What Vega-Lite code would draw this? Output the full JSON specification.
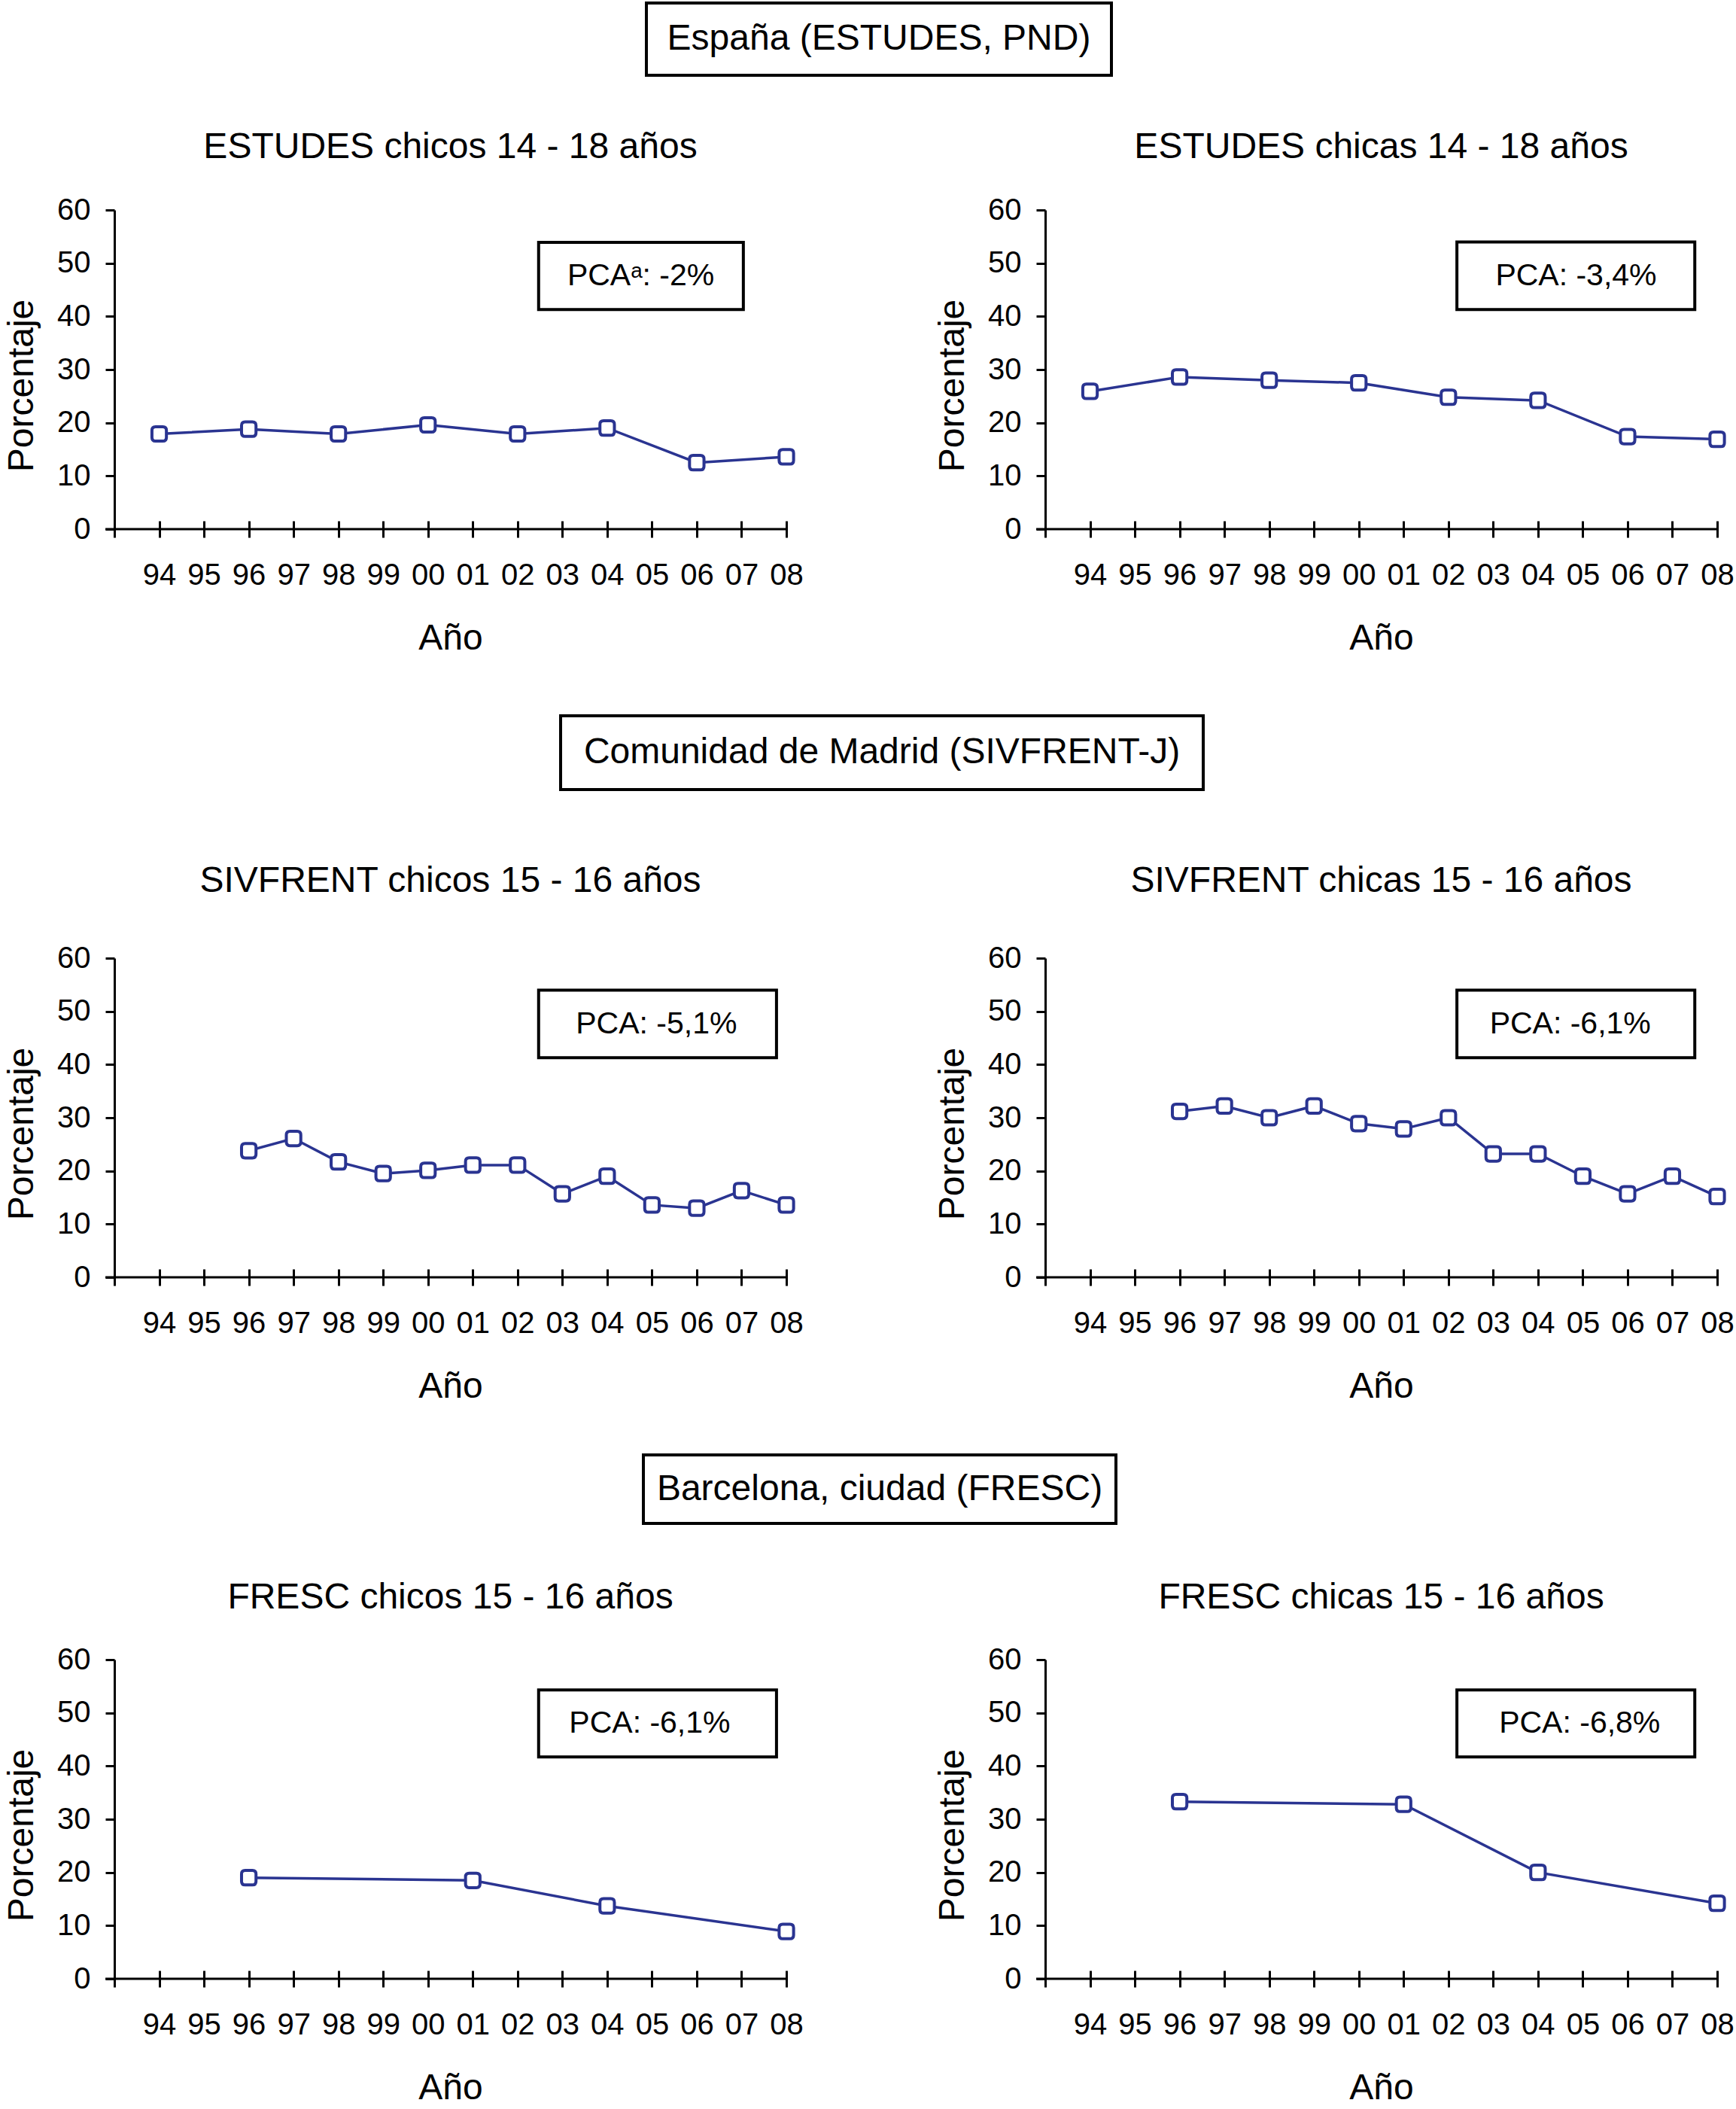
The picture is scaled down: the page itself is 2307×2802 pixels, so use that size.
{
  "$schema": "https://vega.github.io/schema/vega-lite/v6.json",
  "background": "white",
  "padding": {"left": 5, "top": 2, "right": 5, "bottom": 2},
  "datasets": {
    "series": [
      {"panel": "ESTUDES chicos", "year": 1994, "value": 17.9},
      {"panel": "ESTUDES chicos", "year": 1996, "value": 18.8},
      {"panel": "ESTUDES chicos", "year": 1998, "value": 17.9},
      {"panel": "ESTUDES chicos", "year": 2000, "value": 19.6},
      {"panel": "ESTUDES chicos", "year": 2002, "value": 17.9},
      {"panel": "ESTUDES chicos", "year": 2004, "value": 19.0},
      {"panel": "ESTUDES chicos", "year": 2006, "value": 12.5},
      {"panel": "ESTUDES chicos", "year": 2008, "value": 13.6},
      {"panel": "ESTUDES chicas", "year": 1994, "value": 25.9},
      {"panel": "ESTUDES chicas", "year": 1996, "value": 28.6},
      {"panel": "ESTUDES chicas", "year": 1998, "value": 28.0},
      {"panel": "ESTUDES chicas", "year": 2000, "value": 27.5},
      {"panel": "ESTUDES chicas", "year": 2002, "value": 24.8},
      {"panel": "ESTUDES chicas", "year": 2004, "value": 24.2},
      {"panel": "ESTUDES chicas", "year": 2006, "value": 17.4},
      {"panel": "ESTUDES chicas", "year": 2008, "value": 16.9},
      {"panel": "SIVFRENT chicos", "year": 1996, "value": 23.8},
      {"panel": "SIVFRENT chicos", "year": 1997, "value": 26.1},
      {"panel": "SIVFRENT chicos", "year": 1998, "value": 21.7},
      {"panel": "SIVFRENT chicos", "year": 1999, "value": 19.5},
      {"panel": "SIVFRENT chicos", "year": 2000, "value": 20.1},
      {"panel": "SIVFRENT chicos", "year": 2001, "value": 21.1},
      {"panel": "SIVFRENT chicos", "year": 2002, "value": 21.1},
      {"panel": "SIVFRENT chicos", "year": 2003, "value": 15.7},
      {"panel": "SIVFRENT chicos", "year": 2004, "value": 19.0},
      {"panel": "SIVFRENT chicos", "year": 2005, "value": 13.6},
      {"panel": "SIVFRENT chicos", "year": 2006, "value": 13.0},
      {"panel": "SIVFRENT chicos", "year": 2007, "value": 16.3},
      {"panel": "SIVFRENT chicos", "year": 2008, "value": 13.6},
      {"panel": "SIVFRENT chicas", "year": 1996, "value": 31.2},
      {"panel": "SIVFRENT chicas", "year": 1997, "value": 32.2},
      {"panel": "SIVFRENT chicas", "year": 1998, "value": 30.0},
      {"panel": "SIVFRENT chicas", "year": 1999, "value": 32.2},
      {"panel": "SIVFRENT chicas", "year": 2000, "value": 28.9},
      {"panel": "SIVFRENT chicas", "year": 2001, "value": 27.9},
      {"panel": "SIVFRENT chicas", "year": 2002, "value": 30.0},
      {"panel": "SIVFRENT chicas", "year": 2003, "value": 23.2},
      {"panel": "SIVFRENT chicas", "year": 2004, "value": 23.2},
      {"panel": "SIVFRENT chicas", "year": 2005, "value": 19.0},
      {"panel": "SIVFRENT chicas", "year": 2006, "value": 15.7},
      {"panel": "SIVFRENT chicas", "year": 2007, "value": 19.0},
      {"panel": "SIVFRENT chicas", "year": 2008, "value": 15.2},
      {"panel": "FRESC chicos", "year": 1996, "value": 19.0},
      {"panel": "FRESC chicos", "year": 2001, "value": 18.5},
      {"panel": "FRESC chicos", "year": 2004, "value": 13.7},
      {"panel": "FRESC chicos", "year": 2008, "value": 8.9},
      {"panel": "FRESC chicas", "year": 1996, "value": 33.3},
      {"panel": "FRESC chicas", "year": 2001, "value": 32.8},
      {"panel": "FRESC chicas", "year": 2004, "value": 20.0},
      {"panel": "FRESC chicas", "year": 2008, "value": 14.2}
    ]
  },
  "spacing": 65,
  "vconcat": [
    {
      "spacing": 77,
      "vconcat": [
        {
          "spacing": 70,
          "vconcat": [
            {"spacing": 0, "hconcat": [
              {"width": 705, "height": 96, "data": {"values": [{}]}, "mark": {"type": "text"}, "encoding": {}},
              {"width": 618, "height": 96, "view": {"stroke": "black", "strokeWidth": 4}, "data": {"values": [{"header": "España (ESTUDES, PND)"}]}, "mark": {"type": "text", "fontSize": 48, "align": "center", "baseline": "middle", "color": "black"}, "encoding": {"text": {"field": "header"}}}
            ]},
            {"spacing": 174, "hconcat": [
              {
                "width": 893, "height": 424,
                "title": {"text": "ESTUDES chicos 14 - 18 años", "offset": 39},
                "layer": [
                  {"data": {"name": "series"}, "transform": [{"filter": "datum.panel == 'ESTUDES chicos'"}],
                   "layer": [
                     {"mark": {"type": "line", "color": "#2a3491", "strokeWidth": 3.5}},
                     {"mark": {"type": "point", "shape": "M-0.5,-1H0.5Q1,-1,1,-0.5V0.5Q1,1,0.5,1H-0.5Q-1,1,-1,0.5V-0.5Q-1,-1,-0.5,-1Z", "filled": true, "fill": "white", "stroke": "#2a3491", "strokeWidth": 4, "size": 370, "opacity": 1}}
                   ],
                   "encoding": {
                     "x": {"field": "year", "type": "quantitative", "scale": {"domain": [1993, 2008], "nice": false, "zero": false},
                           "axis": {"title": "Año", "values": [1993,1994,1995,1996,1997,1998,1999,2000,2001,2002,2003,2004,2005,2006,2007,2008], "labelExpr": "datum.value == 1993 ? '' : format(datum.value % 100, '02d')", "domain": false, "grid": false, "tickSize": 22, "tickWidth": 3, "tickColor": "black", "offset": -11, "labelPadding": 30, "labelFontSize": 40, "labelFont": "Liberation Sans", "labelColor": "black", "labelFlush": false, "labelOverlap": false, "labelBound": false, "titleFontSize": 48, "titleFont": "Liberation Sans", "titleFontWeight": "normal", "titleColor": "black", "titlePadding": 40}},
                     "y": {"field": "value", "type": "quantitative", "scale": {"domain": [0, 60], "nice": false},
                           "axis": {"title": "Porcentaje", "values": [0,10,20,30,40,50,60], "grid": false, "domainColor": "black", "domainWidth": 3, "tickSize": 12, "tickWidth": 3, "tickColor": "black", "labelPadding": 20, "labelFontSize": 40, "labelFont": "Liberation Sans", "labelColor": "black", "labelFlush": false, "labelOverlap": false, "labelBound": false, "titleFontSize": 48, "titleFont": "Liberation Sans", "titleFontWeight": "normal", "titleColor": "black", "titlePadding": 22, "titleY": 233}}
                   }
                  },
                  {"data": {"values": [{}]}, "mark": {"type": "rule", "color": "black", "strokeWidth": 3}, "encoding": {"x": {"datum": 1992.8}, "x2": {"datum": 2008.03}, "y": {"datum": 0}}},
                  {"data": {"values": [{"label": "PCAᵃ: -2%"}]},
                   "layer": [
                     {"mark": {"type": "rect", "fill": "white", "stroke": "black", "strokeWidth": 4}, "encoding": {"x": {"datum": 2002.47}, "x2": {"datum": 2007.04}, "y": {"datum": 53.9}, "y2": {"datum": 41.3}}},
                     {"mark": {"type": "text", "fontSize": 41, "align": "center", "baseline": "middle", "color": "black"}, "encoding": {"x": {"datum": 2004.75}, "y": {"datum": 47.6}, "text": {"field": "label"}}}
                   ]}
                ]
              },
              {
                "width": 893, "height": 424,
                "title": {"text": "ESTUDES chicas 14 - 18 años", "offset": 39},
                "layer": [
                  {"data": {"name": "series"}, "transform": [{"filter": "datum.panel == 'ESTUDES chicas'"}],
                   "layer": [
                     {"mark": {"type": "line", "color": "#2a3491", "strokeWidth": 3.5}},
                     {"mark": {"type": "point", "shape": "M-0.5,-1H0.5Q1,-1,1,-0.5V0.5Q1,1,0.5,1H-0.5Q-1,1,-1,0.5V-0.5Q-1,-1,-0.5,-1Z", "filled": true, "fill": "white", "stroke": "#2a3491", "strokeWidth": 4, "size": 370, "opacity": 1}}
                   ],
                   "encoding": {
                     "x": {"field": "year", "type": "quantitative", "scale": {"domain": [1993, 2008], "nice": false, "zero": false},
                           "axis": {"title": "Año", "values": [1993,1994,1995,1996,1997,1998,1999,2000,2001,2002,2003,2004,2005,2006,2007,2008], "labelExpr": "datum.value == 1993 ? '' : format(datum.value % 100, '02d')", "domain": false, "grid": false, "tickSize": 22, "tickWidth": 3, "tickColor": "black", "offset": -11, "labelPadding": 30, "labelFontSize": 40, "labelFont": "Liberation Sans", "labelColor": "black", "labelFlush": false, "labelOverlap": false, "labelBound": false, "titleFontSize": 48, "titleFont": "Liberation Sans", "titleFontWeight": "normal", "titleColor": "black", "titlePadding": 40}},
                     "y": {"field": "value", "type": "quantitative", "scale": {"domain": [0, 60], "nice": false},
                           "axis": {"title": "Porcentaje", "values": [0,10,20,30,40,50,60], "grid": false, "domainColor": "black", "domainWidth": 3, "tickSize": 12, "tickWidth": 3, "tickColor": "black", "labelPadding": 20, "labelFontSize": 40, "labelFont": "Liberation Sans", "labelColor": "black", "labelFlush": false, "labelOverlap": false, "labelBound": false, "titleFontSize": 48, "titleFont": "Liberation Sans", "titleFontWeight": "normal", "titleColor": "black", "titlePadding": 22, "titleY": 233}}
                   }
                  },
                  {"data": {"values": [{}]}, "mark": {"type": "rule", "color": "black", "strokeWidth": 3}, "encoding": {"x": {"datum": 1992.8}, "x2": {"datum": 2008.03}, "y": {"datum": 0}}},
                  {"data": {"values": [{"label": "PCA: -3,4%"}]},
                   "layer": [
                     {"mark": {"type": "rect", "fill": "white", "stroke": "black", "strokeWidth": 4}, "encoding": {"x": {"datum": 2002.19}, "x2": {"datum": 2007.5}, "y": {"datum": 54.0}, "y2": {"datum": 41.3}}},
                     {"mark": {"type": "text", "fontSize": 41, "align": "center", "baseline": "middle", "color": "black"}, "encoding": {"x": {"datum": 2004.85}, "y": {"datum": 47.6}, "text": {"field": "label"}}}
                   ]}
                ]
              }
            ]}
          ]
        },
        {
          "spacing": 96,
          "vconcat": [
            {"spacing": 0, "hconcat": [
              {"width": 591, "height": 98, "data": {"values": [{}]}, "mark": {"type": "text"}, "encoding": {}},
              {"width": 854, "height": 98, "view": {"stroke": "black", "strokeWidth": 4}, "data": {"values": [{"header": "Comunidad de Madrid (SIVFRENT-J)"}]}, "mark": {"type": "text", "fontSize": 48, "align": "center", "baseline": "middle", "color": "black"}, "encoding": {"text": {"field": "header"}}}
            ]},
            {"spacing": 174, "hconcat": [
              {
                "width": 893, "height": 424,
                "title": {"text": "SIVFRENT chicos 15 - 16 años", "offset": 58},
                "layer": [
                  {"data": {"name": "series"}, "transform": [{"filter": "datum.panel == 'SIVFRENT chicos'"}],
                   "layer": [
                     {"mark": {"type": "line", "color": "#2a3491", "strokeWidth": 3.5}},
                     {"mark": {"type": "point", "shape": "M-0.5,-1H0.5Q1,-1,1,-0.5V0.5Q1,1,0.5,1H-0.5Q-1,1,-1,0.5V-0.5Q-1,-1,-0.5,-1Z", "filled": true, "fill": "white", "stroke": "#2a3491", "strokeWidth": 4, "size": 370, "opacity": 1}}
                   ],
                   "encoding": {
                     "x": {"field": "year", "type": "quantitative", "scale": {"domain": [1993, 2008], "nice": false, "zero": false},
                           "axis": {"title": "Año", "values": [1993,1994,1995,1996,1997,1998,1999,2000,2001,2002,2003,2004,2005,2006,2007,2008], "labelExpr": "datum.value == 1993 ? '' : format(datum.value % 100, '02d')", "domain": false, "grid": false, "tickSize": 22, "tickWidth": 3, "tickColor": "black", "offset": -11, "labelPadding": 30, "labelFontSize": 40, "labelFont": "Liberation Sans", "labelColor": "black", "labelFlush": false, "labelOverlap": false, "labelBound": false, "titleFontSize": 48, "titleFont": "Liberation Sans", "titleFontWeight": "normal", "titleColor": "black", "titlePadding": 40}},
                     "y": {"field": "value", "type": "quantitative", "scale": {"domain": [0, 60], "nice": false},
                           "axis": {"title": "Porcentaje", "values": [0,10,20,30,40,50,60], "grid": false, "domainColor": "black", "domainWidth": 3, "tickSize": 12, "tickWidth": 3, "tickColor": "black", "labelPadding": 20, "labelFontSize": 40, "labelFont": "Liberation Sans", "labelColor": "black", "labelFlush": false, "labelOverlap": false, "labelBound": false, "titleFontSize": 48, "titleFont": "Liberation Sans", "titleFontWeight": "normal", "titleColor": "black", "titlePadding": 22, "titleY": 233}}
                   }
                  },
                  {"data": {"values": [{}]}, "mark": {"type": "rule", "color": "black", "strokeWidth": 3}, "encoding": {"x": {"datum": 1992.8}, "x2": {"datum": 2008.03}, "y": {"datum": 0}}},
                  {"data": {"values": [{"label": "PCA: -5,1%"}]},
                   "layer": [
                     {"mark": {"type": "rect", "fill": "white", "stroke": "black", "strokeWidth": 4}, "encoding": {"x": {"datum": 2002.47}, "x2": {"datum": 2007.78}, "y": {"datum": 54.0}, "y2": {"datum": 41.3}}},
                     {"mark": {"type": "text", "fontSize": 41, "align": "center", "baseline": "middle", "color": "black"}, "encoding": {"x": {"datum": 2005.1}, "y": {"datum": 47.6}, "text": {"field": "label"}}}
                   ]}
                ]
              },
              {
                "width": 893, "height": 424,
                "title": {"text": "SIVFRENT chicas 15 - 16 años", "offset": 58},
                "layer": [
                  {"data": {"name": "series"}, "transform": [{"filter": "datum.panel == 'SIVFRENT chicas'"}],
                   "layer": [
                     {"mark": {"type": "line", "color": "#2a3491", "strokeWidth": 3.5}},
                     {"mark": {"type": "point", "shape": "M-0.5,-1H0.5Q1,-1,1,-0.5V0.5Q1,1,0.5,1H-0.5Q-1,1,-1,0.5V-0.5Q-1,-1,-0.5,-1Z", "filled": true, "fill": "white", "stroke": "#2a3491", "strokeWidth": 4, "size": 370, "opacity": 1}}
                   ],
                   "encoding": {
                     "x": {"field": "year", "type": "quantitative", "scale": {"domain": [1993, 2008], "nice": false, "zero": false},
                           "axis": {"title": "Año", "values": [1993,1994,1995,1996,1997,1998,1999,2000,2001,2002,2003,2004,2005,2006,2007,2008], "labelExpr": "datum.value == 1993 ? '' : format(datum.value % 100, '02d')", "domain": false, "grid": false, "tickSize": 22, "tickWidth": 3, "tickColor": "black", "offset": -11, "labelPadding": 30, "labelFontSize": 40, "labelFont": "Liberation Sans", "labelColor": "black", "labelFlush": false, "labelOverlap": false, "labelBound": false, "titleFontSize": 48, "titleFont": "Liberation Sans", "titleFontWeight": "normal", "titleColor": "black", "titlePadding": 40}},
                     "y": {"field": "value", "type": "quantitative", "scale": {"domain": [0, 60], "nice": false},
                           "axis": {"title": "Porcentaje", "values": [0,10,20,30,40,50,60], "grid": false, "domainColor": "black", "domainWidth": 3, "tickSize": 12, "tickWidth": 3, "tickColor": "black", "labelPadding": 20, "labelFontSize": 40, "labelFont": "Liberation Sans", "labelColor": "black", "labelFlush": false, "labelOverlap": false, "labelBound": false, "titleFontSize": 48, "titleFont": "Liberation Sans", "titleFontWeight": "normal", "titleColor": "black", "titlePadding": 22, "titleY": 233}}
                   }
                  },
                  {"data": {"values": [{}]}, "mark": {"type": "rule", "color": "black", "strokeWidth": 3}, "encoding": {"x": {"datum": 1992.8}, "x2": {"datum": 2008.03}, "y": {"datum": 0}}},
                  {"data": {"values": [{"label": "PCA: -6,1%"}]},
                   "layer": [
                     {"mark": {"type": "rect", "fill": "white", "stroke": "black", "strokeWidth": 4}, "encoding": {"x": {"datum": 2002.19}, "x2": {"datum": 2007.5}, "y": {"datum": 54.0}, "y2": {"datum": 41.3}}},
                     {"mark": {"type": "text", "fontSize": 41, "align": "center", "baseline": "middle", "color": "black"}, "encoding": {"x": {"datum": 2004.72}, "y": {"datum": 47.6}, "text": {"field": "label"}}}
                   ]}
                ]
              }
            ]}
          ]
        }
      ]
    },
    {
      "spacing": 73,
      "vconcat": [
        {"spacing": 0, "hconcat": [
          {"width": 701, "height": 91, "data": {"values": [{}]}, "mark": {"type": "text"}, "encoding": {}},
          {"width": 628, "height": 91, "view": {"stroke": "black", "strokeWidth": 4}, "data": {"values": [{"header": "Barcelona, ciudad (FRESC)"}]}, "mark": {"type": "text", "fontSize": 48, "align": "center", "baseline": "middle", "color": "black"}, "encoding": {"text": {"field": "header"}}}
        ]},
        {"spacing": 174, "hconcat": [
          {
            "width": 893, "height": 424,
            "title": {"text": "FRESC chicos 15 - 16 años", "offset": 38},
            "layer": [
              {"data": {"name": "series"}, "transform": [{"filter": "datum.panel == 'FRESC chicos'"}],
               "layer": [
                 {"mark": {"type": "line", "color": "#2a3491", "strokeWidth": 3.5}},
                 {"mark": {"type": "point", "shape": "M-0.5,-1H0.5Q1,-1,1,-0.5V0.5Q1,1,0.5,1H-0.5Q-1,1,-1,0.5V-0.5Q-1,-1,-0.5,-1Z", "filled": true, "fill": "white", "stroke": "#2a3491", "strokeWidth": 4, "size": 370, "opacity": 1}}
               ],
               "encoding": {
                 "x": {"field": "year", "type": "quantitative", "scale": {"domain": [1993, 2008], "nice": false, "zero": false},
                       "axis": {"title": "Año", "values": [1993,1994,1995,1996,1997,1998,1999,2000,2001,2002,2003,2004,2005,2006,2007,2008], "labelExpr": "datum.value == 1993 ? '' : format(datum.value % 100, '02d')", "domain": false, "grid": false, "tickSize": 22, "tickWidth": 3, "tickColor": "black", "offset": -11, "labelPadding": 30, "labelFontSize": 40, "labelFont": "Liberation Sans", "labelColor": "black", "labelFlush": false, "labelOverlap": false, "labelBound": false, "titleFontSize": 48, "titleFont": "Liberation Sans", "titleFontWeight": "normal", "titleColor": "black", "titlePadding": 40}},
                 "y": {"field": "value", "type": "quantitative", "scale": {"domain": [0, 60], "nice": false},
                       "axis": {"title": "Porcentaje", "values": [0,10,20,30,40,50,60], "grid": false, "domainColor": "black", "domainWidth": 3, "tickSize": 12, "tickWidth": 3, "tickColor": "black", "labelPadding": 20, "labelFontSize": 40, "labelFont": "Liberation Sans", "labelColor": "black", "labelFlush": false, "labelOverlap": false, "labelBound": false, "titleFontSize": 48, "titleFont": "Liberation Sans", "titleFontWeight": "normal", "titleColor": "black", "titlePadding": 22, "titleY": 233}}
               }
              },
              {"data": {"values": [{}]}, "mark": {"type": "rule", "color": "black", "strokeWidth": 3}, "encoding": {"x": {"datum": 1992.8}, "x2": {"datum": 2008.03}, "y": {"datum": 0}}},
              {"data": {"values": [{"label": "PCA: -6,1%"}]},
               "layer": [
                 {"mark": {"type": "rect", "fill": "white", "stroke": "black", "strokeWidth": 4}, "encoding": {"x": {"datum": 2002.47}, "x2": {"datum": 2007.78}, "y": {"datum": 54.3}, "y2": {"datum": 41.7}}},
                 {"mark": {"type": "text", "fontSize": 41, "align": "center", "baseline": "middle", "color": "black"}, "encoding": {"x": {"datum": 2004.95}, "y": {"datum": 48.0}, "text": {"field": "label"}}}
               ]}
            ]
          },
          {
            "width": 893, "height": 424,
            "title": {"text": "FRESC chicas 15 - 16 años", "offset": 38},
            "layer": [
              {"data": {"name": "series"}, "transform": [{"filter": "datum.panel == 'FRESC chicas'"}],
               "layer": [
                 {"mark": {"type": "line", "color": "#2a3491", "strokeWidth": 3.5}},
                 {"mark": {"type": "point", "shape": "M-0.5,-1H0.5Q1,-1,1,-0.5V0.5Q1,1,0.5,1H-0.5Q-1,1,-1,0.5V-0.5Q-1,-1,-0.5,-1Z", "filled": true, "fill": "white", "stroke": "#2a3491", "strokeWidth": 4, "size": 370, "opacity": 1}}
               ],
               "encoding": {
                 "x": {"field": "year", "type": "quantitative", "scale": {"domain": [1993, 2008], "nice": false, "zero": false},
                       "axis": {"title": "Año", "values": [1993,1994,1995,1996,1997,1998,1999,2000,2001,2002,2003,2004,2005,2006,2007,2008], "labelExpr": "datum.value == 1993 ? '' : format(datum.value % 100, '02d')", "domain": false, "grid": false, "tickSize": 22, "tickWidth": 3, "tickColor": "black", "offset": -11, "labelPadding": 30, "labelFontSize": 40, "labelFont": "Liberation Sans", "labelColor": "black", "labelFlush": false, "labelOverlap": false, "labelBound": false, "titleFontSize": 48, "titleFont": "Liberation Sans", "titleFontWeight": "normal", "titleColor": "black", "titlePadding": 40}},
                 "y": {"field": "value", "type": "quantitative", "scale": {"domain": [0, 60], "nice": false},
                       "axis": {"title": "Porcentaje", "values": [0,10,20,30,40,50,60], "grid": false, "domainColor": "black", "domainWidth": 3, "tickSize": 12, "tickWidth": 3, "tickColor": "black", "labelPadding": 20, "labelFontSize": 40, "labelFont": "Liberation Sans", "labelColor": "black", "labelFlush": false, "labelOverlap": false, "labelBound": false, "titleFontSize": 48, "titleFont": "Liberation Sans", "titleFontWeight": "normal", "titleColor": "black", "titlePadding": 22, "titleY": 233}}
               }
              },
              {"data": {"values": [{}]}, "mark": {"type": "rule", "color": "black", "strokeWidth": 3}, "encoding": {"x": {"datum": 1992.8}, "x2": {"datum": 2008.03}, "y": {"datum": 0}}},
              {"data": {"values": [{"label": "PCA: -6,8%"}]},
               "layer": [
                 {"mark": {"type": "rect", "fill": "white", "stroke": "black", "strokeWidth": 4}, "encoding": {"x": {"datum": 2002.19}, "x2": {"datum": 2007.5}, "y": {"datum": 54.3}, "y2": {"datum": 41.7}}},
                 {"mark": {"type": "text", "fontSize": 41, "align": "center", "baseline": "middle", "color": "black"}, "encoding": {"x": {"datum": 2004.93}, "y": {"datum": 48.0}, "text": {"field": "label"}}}
               ]}
            ]
          }
        ]}
      ]
    }
  ],
  "config": {
    "view": {"stroke": null},
    "font": "Liberation Sans",
    "text": {"font": "Liberation Sans"},
    "title": {"fontSize": 48, "font": "Liberation Sans", "fontWeight": "normal", "color": "black", "frame": "group", "anchor": "middle", "baseline": "alphabetic"}
  }
}
